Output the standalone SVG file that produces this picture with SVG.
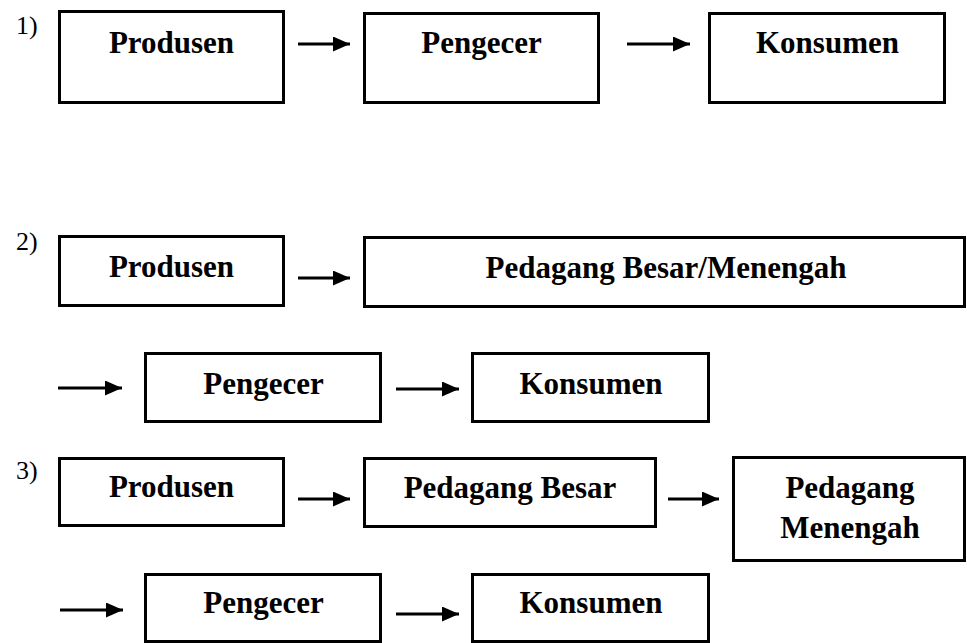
<svg xmlns="http://www.w3.org/2000/svg" width="967" height="643" viewBox="0 0 967 643">
<defs>
<marker id="ah" markerUnits="userSpaceOnUse" markerWidth="17" markerHeight="15" refX="17" refY="7.5" orient="auto">
<polygon points="0,0 17,7.5 0,15" fill="#000"/>
</marker>
<style>
.box{fill:#fff;stroke:#000;stroke-width:3}
.t{font-family:"Liberation Serif","Times New Roman",serif;font-weight:bold;font-size:31px;text-anchor:middle;fill:#000}
.n{font-family:"Liberation Serif","Times New Roman",serif;font-size:26px;fill:#000}
.c line{stroke:#000;stroke-width:3;marker-end:url(#ah)}
</style>
</defs>
<rect width="967" height="643" fill="#fff"/>
<g id="labels">
<text class="n" x="16" y="34">1)</text>
<text class="n" x="16" y="250">2)</text>
<text class="n" x="16" y="479">3)</text>
</g>
<g id="r1-produsen"><rect class="box" x="59.5" y="11.5" width="224" height="91"/><text class="t" x="171.5" y="53">Produsen</text></g>
<g id="r1-pengecer"><rect class="box" x="364.5" y="13.5" width="234" height="89"/><text class="t" x="481.5" y="53">Pengecer</text></g>
<g id="r1-konsumen"><rect class="box" x="709.5" y="13.5" width="235" height="89"/><text class="t" x="827.5" y="53">Konsumen</text></g>
<g id="r2-produsen"><rect class="box" x="59.5" y="236.5" width="224" height="69"/><text class="t" x="171.5" y="277">Produsen</text></g>
<g id="r2-pedagang"><rect class="box" x="364.5" y="237.5" width="600" height="69"/><text class="t" x="666" y="278">Pedagang Besar/Menengah</text></g>
<g id="r2-pengecer"><rect class="box" x="145.5" y="353.5" width="235" height="68"/><text class="t" x="263.5" y="394">Pengecer</text></g>
<g id="r2-konsumen"><rect class="box" x="472.5" y="353.5" width="236" height="68"/><text class="t" x="591" y="394">Konsumen</text></g>
<g id="r3-produsen"><rect class="box" x="59.5" y="458.5" width="224" height="67"/><text class="t" x="171.5" y="497">Produsen</text></g>
<g id="r3-besar"><rect class="box" x="364.5" y="458.5" width="291" height="68"/><text class="t" x="510" y="498">Pedagang Besar</text></g>
<g id="r3-menengah"><rect class="box" x="733.5" y="457.5" width="231" height="103"/><text class="t" x="850" y="498">Pedagang</text><text class="t" x="850" y="538">Menengah</text></g>
<g id="r3-pengecer"><rect class="box" x="145.5" y="574.5" width="235" height="67"/><text class="t" x="263.5" y="613">Pengecer</text></g>
<g id="r3-konsumen"><rect class="box" x="472.5" y="574.5" width="236" height="67"/><text class="t" x="591" y="613">Konsumen</text></g>
<g id="connectors" class="c">
<line x1="298" y1="44" x2="350" y2="44"/>
<line x1="627" y1="44" x2="690" y2="44"/>
<line x1="298" y1="278" x2="350" y2="278"/>
<line x1="58" y1="388" x2="122" y2="388"/>
<line x1="396" y1="389" x2="459" y2="389"/>
<line x1="298" y1="499" x2="350" y2="499"/>
<line x1="668" y1="499" x2="719" y2="499"/>
<line x1="60" y1="610" x2="123" y2="610"/>
<line x1="396" y1="614" x2="459" y2="614"/>
</g>
</svg>
